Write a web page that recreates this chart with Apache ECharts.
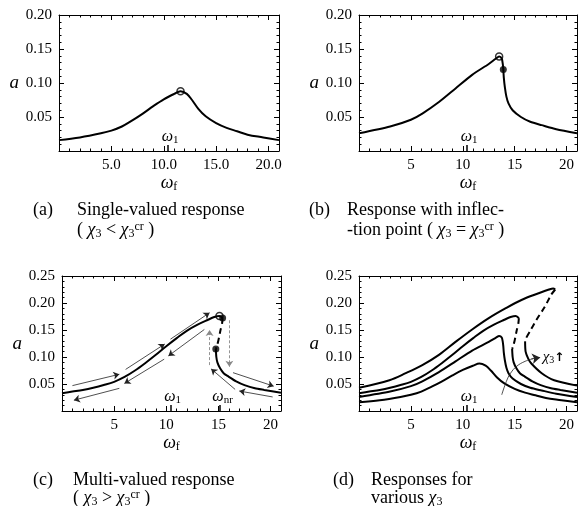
<!DOCTYPE html>
<html><head><meta charset="utf-8">
<script src="https://cdn.jsdelivr.net/npm/echarts@6/dist/echarts.min.js"></script>
<style>html,body{margin:0;padding:0;background:#fff}#c{width:580px;height:506px}</style>
</head><body><div id="c"></div>
<script>
// ---------- data ----------
const xMin = 0, xMax = 21, xMajor = 5, xMinorStep = 1;
const yMaxTop = 0.20, yMaxBottom = 0.25, yMajor = 0.05;
const omega1 = 10.4;
const omegaNr = 15.1;

// (a) single-valued response
const curveA = [[0,0.016],[2,0.020],[4,0.026],[5,0.030],[6,0.036],[7,0.045],[8,0.055],[9,0.066],[10,0.076],[11,0.084],[11.6,0.088],[12.2,0.084],[12.7,0.075],[13.3,0.062],[14,0.051],[15,0.041],[16,0.034],[17,0.029],[18,0.024],[19.5,0.020],[21,0.016]];
const peakA = [[11.6,0.088]];

// (b) response with inflection point
const curveB = [[0,0.026],[3,0.036],[5,0.046],[6.1,0.055],[7.7,0.072],[9.3,0.092],[10.9,0.112],[12.5,0.128],[13.2,0.136],[13.5,0.139],[13.75,0.136],[13.85,0.128],[13.9,0.120],[13.95,0.108],[14.05,0.094],[14.2,0.080],[14.4,0.070],[14.8,0.060],[15.6,0.050],[16.5,0.043],[17.6,0.038],[19,0.032],[21,0.026]];
const peakB = [[13.5,0.139]];
const inflectionB = [[13.9,0.120]];

// (c) multi-valued response
const upperC = [[0,0.033],[1,0.036],[2,0.039],[3,0.043],[4,0.048],[5,0.054],[6,0.063],[7,0.075],[8,0.089],[9,0.104],[10,0.120],[11,0.135],[12,0.149],[13,0.160],[14,0.169],[14.6,0.174],[15.1,0.176],[15.4,0.172]];
const dashC = [[15.4,0.172],[15.35,0.162],[15.2,0.150],[15.0,0.131],[14.85,0.120],[14.75,0.115]];
const lowerC = [[14.75,0.115],[14.8,0.100],[14.9,0.090],[15.16,0.079],[15.5,0.070],[15.95,0.064],[16.7,0.055],[17.5,0.048],[18.5,0.042],[19.4,0.039],[21,0.034]];
const peakC = [[15.1,0.176]];
const turnC = [[15.4,0.172],[14.75,0.115]];
const arrowsC = [
  [[1.0,0.047],[5.5,0.068]],
  [[6.1,0.077],[9.85,0.124]],
  [[10.4,0.133],[14.15,0.182]],
  [[13.65,0.151],[10.2,0.102]],
  [[9.8,0.096],[5.98,0.051]],
  [[5.5,0.042],[1.14,0.020]],
  [[16.4,0.071],[20.3,0.046]],
  [[20.2,0.026],[17.0,0.037]],
  [[16.6,0.040],[14.3,0.078]]
];
const jumpArrowsC = [
  [[14.15,0.085],[14.15,0.150]],
  [[16.05,0.168],[16.05,0.082]]
];

// (d) responses for various chi3 (largest chi3 curve)
const upperD4 = [[0,0.043],[2.93,0.057],[4.5,0.070],[6.1,0.085],[7.7,0.104],[9.3,0.128],[10.9,0.151],[12.5,0.172],[14.1,0.190],[15.7,0.206],[17.3,0.218],[18.3,0.225],[18.7,0.227],[18.9,0.225]];
const dashD4 = [[18.9,0.225],[18.5,0.215],[17.9,0.193],[17.1,0.169],[16.45,0.147],[16.1,0.135],[16.0,0.128]];
const lowerD4 = [[16.0,0.128],[16.05,0.110],[16.3,0.097],[16.6,0.088],[17.6,0.070],[18.8,0.057],[21,0.047]];
const chiArrowCurve = [[13.75,0.030],[14.2,0.055],[14.6,0.070],[15.2,0.083],[16,0.092],[16.8,0.097]];
const chiArrowHead = [[[16.6,0.0965],[17.45,0.099]]];
const chiLabelPos = [[17.7,0.099]];

// ---------- chart ----------
const FONT = '"Liberation Serif","DejaVu Serif",serif';
const grids = [
  {left:59, top:15, width:220, height:136},
  {left:359, top:15, width:218, height:136},
  {left:62, top:276, width:219, height:135},
  {left:359, top:276, width:218, height:135}
];
const yMaxes = [yMaxTop, yMaxTop, yMaxBottom, yMaxBottom];
const xFmt = [
  v => (v > 0 && Math.abs(v % 5) < 1e-9) ? v.toFixed(1) : '',
  v => (v > 0 && Math.abs(v % 5) < 1e-9) ? String(v) : '',
  v => (v > 0 && Math.abs(v % 5) < 1e-9) ? String(v) : '',
  v => (v > 0 && Math.abs(v % 5) < 1e-9) ? String(v) : ''
];
const black = '#000';
const richName = {
  w: {fontFamily: FONT, fontSize: 18, fontStyle: 'italic', color: black},
  s: {fontFamily: FONT, fontSize: 12, color: black, padding: [8,0,0,0]}
};
const xAxes = [], yAxes = [];
grids.forEach((g, i) => {
  const base = {type:'value', gridIndex:i, min:xMin, max:xMax, splitLine:{show:false}};
  xAxes.push(Object.assign({}, base, {
    position:'bottom', interval:xMajor,
    axisLine:{show:true, onZero:false, lineStyle:{color:black, width:1}},
    axisTick:{show:true, inside:true, length:5, lineStyle:{color:black}},
    axisLabel:{formatter:xFmt[i], fontFamily:FONT, fontSize:15, color:black, margin:7},
    name:'{w|ω}{s|f}', nameLocation:'middle', nameGap:21,
    nameTextStyle:{rich:richName}
  }));
  xAxes.push(Object.assign({}, base, {
    position:'bottom', interval:xMinorStep,
    axisLine:{show:false, onZero:false},
    axisTick:{show:true, inside:true, length:2.5, lineStyle:{color:black}},
    axisLabel:{show:false}
  }));
  xAxes.push(Object.assign({}, base, {
    position:'top', interval:xMajor,
    axisLine:{show:true, onZero:false, lineStyle:{color:black, width:1}},
    axisTick:{show:true, inside:true, length:5, lineStyle:{color:black}},
    axisLabel:{show:false}
  }));
  xAxes.push(Object.assign({}, base, {
    position:'top', interval:xMinorStep,
    axisLine:{show:false, onZero:false},
    axisTick:{show:true, inside:true, length:2.5, lineStyle:{color:black}},
    axisLabel:{show:false}
  }));
  const ybase = {type:'value', gridIndex:i, min:0, max:yMaxes[i], interval:yMajor, splitLine:{show:false},
    minorTick:{show:true, splitNumber:5, length:2.5, lineStyle:{color:black}}};
  yAxes.push(Object.assign({}, ybase, {
    position:'left',
    axisLine:{show:true, onZero:false, lineStyle:{color:black, width:1}},
    axisTick:{show:true, inside:true, length:5, lineStyle:{color:black}},
    axisLabel:{formatter: v => v === 0 ? '' : v.toFixed(2), fontFamily:FONT, fontSize:15, color:black, margin:7},
    name:'a', nameLocation:'middle', nameRotate:0, nameGap:40,
    nameTextStyle:{fontFamily:FONT, fontSize:19, fontStyle:'italic', color:black}
  }));
  yAxes.push(Object.assign({}, ybase, {
    position:'right',
    axisLine:{show:true, onZero:false, lineStyle:{color:black, width:1}},
    axisTick:{show:true, inside:true, length:5, lineStyle:{color:black}},
    axisLabel:{show:false}
  }));
});

const series = [];
function curve(i, data, dashed, sm) {
  series.push({type:'line', xAxisIndex:4*i, yAxisIndex:2*i, data, symbol:'none',
    smooth: sm == null ? 0.35 : sm,
    lineStyle:{color:black, width:2, type: dashed ? [6,4] : 'solid'}});
}
function dots(i, data, open) {
  series.push({type:'scatter', xAxisIndex:4*i, yAxisIndex:2*i, data, symbolSize: 7, z:5,
    itemStyle:{color: open ? 'rgba(255,255,255,0)' : black, borderColor:black, borderWidth: open ? 1.5 : 0}});
}
function segs(i, list, opts) {
  series.push(Object.assign({type:'lines', coordinateSystem:'cartesian2d', xAxisIndex:4*i, yAxisIndex:2*i,
    data: list.map(c => ({coords:c}))}, opts));
}
function label(i, pos, text, rich, extra) {
  series.push({type:'scatter', xAxisIndex:4*i, yAxisIndex:2*i, data:pos, symbolSize:0, z:6,
    itemStyle:{color:black, opacity:1},
    label:Object.assign({show:true, position:'inside', formatter:text, rich, color:black, opacity:1, textBorderWidth:0}, extra || {})});
}
const richOmega = {
  w:{fontFamily:FONT, fontSize:16, fontStyle:'italic', color:black, textBorderWidth:0},
  s:{fontFamily:FONT, fontSize:11, color:black, padding:[7,0,0,0], textBorderWidth:0}
};
function omegaTick(i, x, h) {
  segs(i, [[[x,0],[x,h]]], {symbol:'none', lineStyle:{color:black, width:1.5, opacity:1}});
}
// (a)
curve(0, curveA);
dots(0, peakA, true);
omegaTick(0, omega1, 0.009);
label(0, [[omega1+0.2, 0.021]], '{w|ω}{s|1}', richOmega);
// (b)
curve(1, curveB, false, 0.25);
dots(1, peakB, true);
dots(1, inflectionB, false);
omegaTick(1, omega1, 0.009);
label(1, [[omega1+0.2, 0.021]], '{w|ω}{s|1}', richOmega);
// (c)
curve(2, upperC);
curve(2, dashC, true, 0.2);
curve(2, lowerC, false, 0.25);
dots(2, peakC, true);
dots(2, turnC, false);
segs(2, arrowsC, {symbol:['none','arrow'], symbolSize:[0,6], lineStyle:{color:'#222', width:0.8, opacity:1}});
segs(2, jumpArrowsC, {symbol:['none','arrow'], symbolSize:[0,6], lineStyle:{color:'#888', width:0.9, type:[3,2], opacity:1}});
omegaTick(2, omega1, 0.011);
omegaTick(2, omegaNr, 0.011);
label(2, [[omega1+0.2, 0.026]], '{w|ω}{s|1}', richOmega);
label(2, [[omegaNr+0.3, 0.026]], '{w|ω}{s|nr}', richOmega);
// (d)
curve(3, curveA);
curve(3, curveB, false, 0.25);
curve(3, upperC);
curve(3, dashC, true, 0.2);
curve(3, lowerC, false, 0.25);
curve(3, upperD4);
curve(3, dashD4, true, 0.2);
curve(3, lowerD4, false, 0.25);
series.push({type:'line', xAxisIndex:12, yAxisIndex:6, data:chiArrowCurve, symbol:'none', smooth:0.4,
  lineStyle:{color:'#222', width:0.8}});
segs(3, chiArrowHead, {symbol:['none','arrow'], symbolSize:[0,8], lineStyle:{color:'#222', width:0.8, opacity:1}});
omegaTick(3, omega1, 0.011);
label(3, [[omega1+0.2, 0.026]], '{w|ω}{s|1}', richOmega);
label(3, chiLabelPos, '{i|χ}{s|3}{b|↑}', {
  i:{fontFamily:FONT, fontSize:15, fontStyle:'italic', color:black, textBorderWidth:0},
  s:{fontFamily:FONT, fontSize:10, color:black, padding:[6,0,0,0], textBorderWidth:0},
  b:{fontFamily:'DejaVu Sans', fontSize:12, fontWeight:'bold', color:black, textBorderWidth:0}
}, {position:'right', distance:0, align:'left'});

// captions
const capRich = {
  i:{fontFamily:FONT, fontSize:18, fontStyle:'italic', fill:black},
  sub:{fontFamily:FONT, fontSize:12, fill:black, padding:[7,0,0,0]},
  sup:{fontFamily:FONT, fontSize:12, fill:black, padding:[0,0,7,0]}
};
function cap(x, y, text) {
  return {type:'text', x, y, style:{text, fontFamily:FONT, fontSize:18, fill:black, verticalAlign:'middle', rich:capRich}};
}
const graphic = [
  cap(33, 210, '(a)'), cap(77, 210, 'Single-valued response'), cap(77, 230, '( {i|χ}{sub|3} < {i|χ}{sub|3}{sup|cr} )'),
  cap(309, 210, '(b)'), cap(347, 210, 'Response with inflec-'), cap(347, 230, '-tion point ( {i|χ}{sub|3} = {i|χ}{sub|3}{sup|cr} )'),
  cap(33, 480, '(c)'), cap(73, 480, 'Multi-valued response'), cap(73, 498, '( {i|χ}{sub|3} > {i|χ}{sub|3}{sup|cr} )'),
  cap(333, 480, '(d)'), cap(371, 480, 'Responses for'), cap(371, 498, 'various {i|χ}{sub|3}')
];

const chart = echarts.init(document.getElementById('c'), null, {renderer:'canvas'});
chart.setOption({animation:false, backgroundColor:'#fff', grid:grids, xAxis:xAxes, yAxis:yAxes, series, graphic});
</script></body></html>
